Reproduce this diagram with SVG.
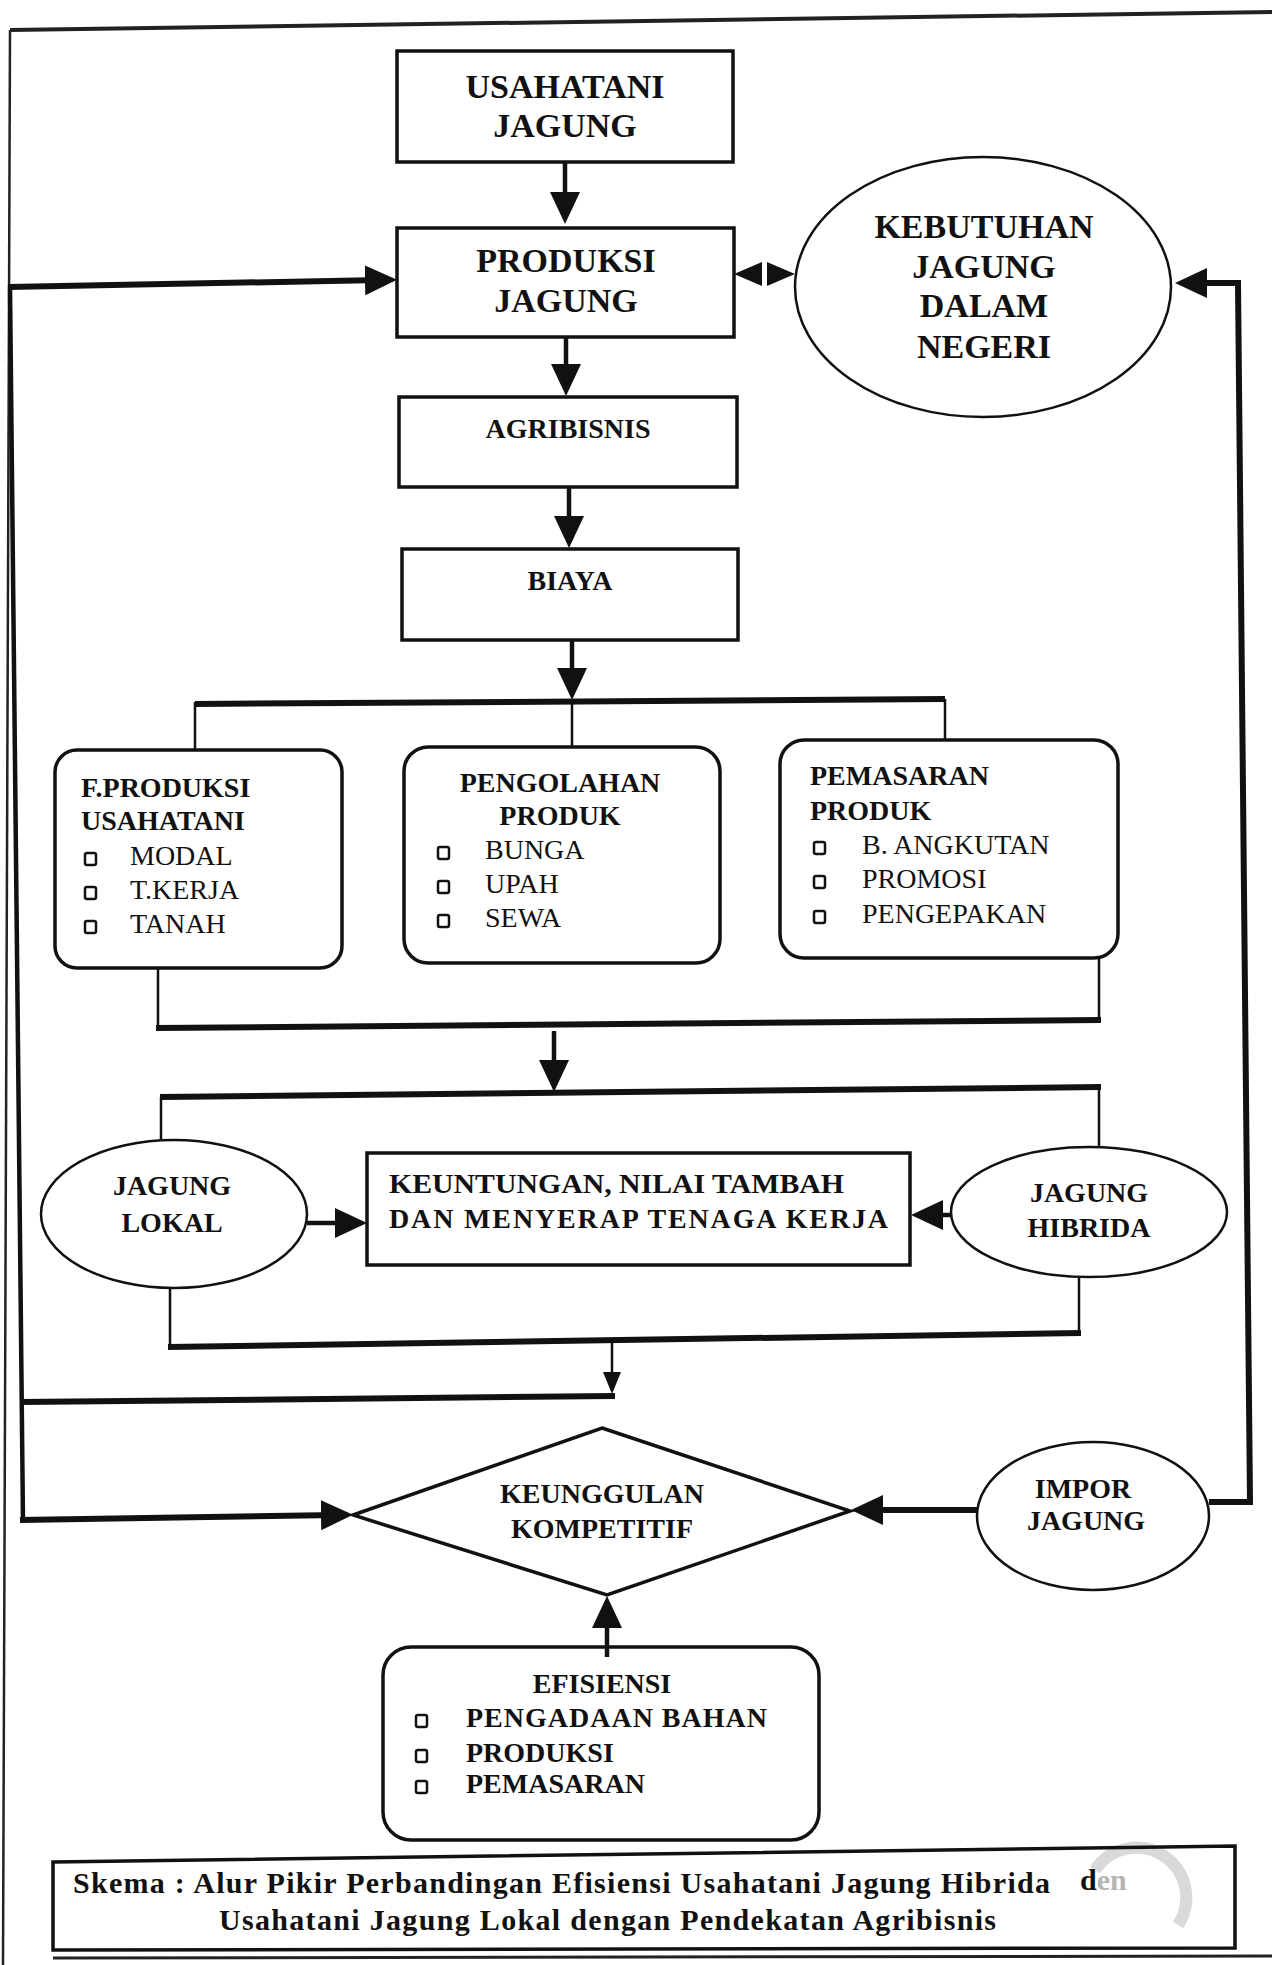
<svg xmlns="http://www.w3.org/2000/svg" width="1272" height="1965" viewBox="0 0 1272 1965">
<style>
  text { font-family: "Liberation Serif", "Times New Roman", serif; fill: #111; }
  .b { font-weight: bold; }
  .t34 { font-size: 34px; }
  .t28 { font-size: 28px; }
  .t30 { font-size: 30px; }
  .c { text-anchor: middle; }
  .box { fill: none; stroke: #111; stroke-width: 3.5; }
  .ell { fill: none; stroke: #111; stroke-width: 2.5; }
  .bul { fill: none; stroke: #111; stroke-width: 2.5; }
  .thick { fill: none; stroke: #111; stroke-width: 6; }
  .med { fill: none; stroke: #111; stroke-width: 4.5; }
  .thin { fill: none; stroke: #111; stroke-width: 2.5; }
  .frame { fill: none; stroke: #222; }
</style>
<defs>
  <marker id="ah" markerUnits="userSpaceOnUse" markerWidth="32" markerHeight="30" refX="16" refY="15" orient="auto">
    <path d="M0,0 L32,15 L0,30 Z" fill="#111"/>
  </marker>
  <marker id="as" markerUnits="userSpaceOnUse" markerWidth="22" markerHeight="18" refX="11" refY="9" orient="auto">
    <path d="M0,0 L22,9 L0,18 Z" fill="#111"/>
  </marker>
</defs>
<rect x="0" y="0" width="1272" height="1965" fill="#fff"/>

<g id="page-frame">
  <line class="frame" x1="10" y1="30" x2="1272" y2="12" stroke-width="4"/>
  <line class="frame" x1="10" y1="30" x2="3" y2="1965" stroke-width="2.5"/>
  <line class="frame" x1="53" y1="1958" x2="1272" y2="1956" stroke-width="3"/>
  <path d="M1095,1870 A48,48 0 0 1 1178,1925" fill="none" stroke="#c9c9c9" stroke-width="12" opacity="0.7"/>
</g>

<g id="connectors">
  <line class="med" x1="565" y1="162" x2="565" y2="208" marker-end="url(#ah)"/>
  <line class="med" x1="566" y1="337" x2="566" y2="380" marker-end="url(#ah)"/>
  <line class="med" x1="569" y1="487" x2="569" y2="532" marker-end="url(#ah)"/>
  <line class="med" x1="572" y1="640" x2="572" y2="684" marker-end="url(#ah)"/>
  <polygon points="734,274 762,262 762,286" fill="#111"/>
  <polygon points="795,274 767,262 767,286" fill="#111"/>
  <line class="thick" x1="195" y1="704" x2="945" y2="699"/>
  <line class="thin" x1="195" y1="702" x2="195" y2="750"/>
  <line class="thin" x1="572" y1="700" x2="572" y2="746"/>
  <line class="thin" x1="945" y1="699" x2="945" y2="741"/>
  <line class="thin" x1="158" y1="968" x2="158" y2="1028"/>
  <line class="thin" x1="1099" y1="958" x2="1099" y2="1020"/>
  <line class="thick" x1="156" y1="1028" x2="1101" y2="1020"/>
  <line class="med" x1="554" y1="1031" x2="554" y2="1076" marker-end="url(#ah)"/>
  <line class="thick" x1="160" y1="1097" x2="1101" y2="1087"/>
  <line class="thin" x1="161" y1="1097" x2="161" y2="1141"/>
  <line class="thin" x1="1099" y1="1087" x2="1099" y2="1148"/>
  <line class="med" x1="307" y1="1223" x2="351" y2="1223" marker-end="url(#ah)"/>
  <line class="med" x1="951" y1="1215" x2="927" y2="1215" marker-end="url(#ah)"/>
  <line class="thin" x1="170" y1="1288" x2="170" y2="1347"/>
  <line class="thin" x1="1079" y1="1277" x2="1079" y2="1333"/>
  <line class="thick" x1="168" y1="1347" x2="1081" y2="1333"/>
  <line class="thin" x1="612" y1="1342" x2="612" y2="1383" marker-end="url(#as)"/>
  <line class="thick" x1="615" y1="1396" x2="21" y2="1402"/>
  <line class="med" x1="10" y1="287" x2="23" y2="1522" stroke-width="5"/>
  <line class="thick" x1="8" y1="287" x2="381" y2="280" marker-end="url(#ah)"/>
  <line class="thick" x1="20" y1="1520" x2="337" y2="1515" marker-end="url(#ah)"/>
  <line class="thick" x1="978" y1="1510" x2="867" y2="1510" marker-end="url(#ah)"/>
  <polyline class="thick" points="1209,1502 1250,1502 1238,283 1191,283" marker-end="url(#ah)"/>
  <line class="med" x1="607" y1="1657" x2="607" y2="1612" marker-end="url(#ah)"/>
</g>

<g id="usahatani-jagung">
  <rect class="box" x="397" y="51" width="336" height="111"/>
  <text class="b t34 c" x="565" y="98">USAHATANI</text>
  <text class="b t34 c" x="565" y="137">JAGUNG</text>
</g>

<g id="produksi-jagung">
  <rect class="box" x="397" y="228" width="337" height="109"/>
  <text class="b t34 c" x="566" y="272">PRODUKSI</text>
  <text class="b t34 c" x="566" y="312">JAGUNG</text>
</g>

<g id="kebutuhan-jagung">
  <ellipse class="ell" cx="983" cy="287" rx="188" ry="130"/>
  <text class="b t34 c" x="984" y="238">KEBUTUHAN</text>
  <text class="b t34 c" x="984" y="278">JAGUNG</text>
  <text class="b t34 c" x="984" y="317">DALAM</text>
  <text class="b t34 c" x="984" y="358">NEGERI</text>
</g>

<g id="agribisnis">
  <rect class="box" x="399" y="397" width="338" height="90"/>
  <text class="b t28 c" x="568" y="438">AGRIBISNIS</text>
</g>

<g id="biaya">
  <rect class="box" x="402" y="549" width="336" height="91"/>
  <text class="b t28 c" x="570" y="590">BIAYA</text>
</g>

<g id="f-produksi-usahatani">
  <rect class="box" x="55" y="750" width="287" height="218" rx="22" stroke-width="3"/>
  <text class="b t28" x="81" y="797">F.PRODUKSI</text>
  <text class="b t28" x="81" y="830">USAHATANI</text>
  <rect class="bul" x="85" y="853" width="11" height="12" rx="2"/>
  <text class="t28" x="130" y="865">MODAL</text>
  <rect class="bul" x="85" y="887" width="11" height="12" rx="2"/>
  <text class="t28" x="130" y="899">T.KERJA</text>
  <rect class="bul" x="85" y="921" width="11" height="12" rx="2"/>
  <text class="t28" x="130" y="933">TANAH</text>
</g>

<g id="pengolahan-produk">
  <rect class="box" x="404" y="747" width="316" height="216" rx="24" stroke-width="3"/>
  <text class="b t28 c" x="560" y="792">PENGOLAHAN</text>
  <text class="b t28 c" x="560" y="825">PRODUK</text>
  <rect class="bul" x="438" y="847" width="11" height="12" rx="2"/>
  <text class="t28" x="485" y="859">BUNGA</text>
  <rect class="bul" x="438" y="881" width="11" height="12" rx="2"/>
  <text class="t28" x="485" y="893">UPAH</text>
  <rect class="bul" x="438" y="915" width="11" height="12" rx="2"/>
  <text class="t28" x="485" y="927">SEWA</text>
</g>

<g id="pemasaran-produk">
  <rect class="box" x="780" y="740" width="338" height="218" rx="24" stroke-width="3"/>
  <text class="b t28" x="810" y="785">PEMASARAN</text>
  <text class="b t28" x="810" y="820">PRODUK</text>
  <rect class="bul" x="814" y="842" width="11" height="12" rx="2"/>
  <text class="t28" x="862" y="854">B. ANGKUTAN</text>
  <rect class="bul" x="814" y="876" width="11" height="12" rx="2"/>
  <text class="t28" x="862" y="888">PROMOSI</text>
  <rect class="bul" x="814" y="911" width="11" height="12" rx="2"/>
  <text class="t28" x="862" y="923">PENGEPAKAN</text>
</g>

<g id="jagung-lokal">
  <ellipse class="ell" cx="174" cy="1214" rx="133" ry="74"/>
  <text class="b t28 c" x="172" y="1195">JAGUNG</text>
  <text class="b t28 c" x="172" y="1232">LOKAL</text>
</g>

<g id="keuntungan">
  <rect class="box" x="367" y="1153" width="543" height="112" stroke-width="3"/>
  <text class="b t28" x="389" y="1193" textLength="455" lengthAdjust="spacingAndGlyphs">KEUNTUNGAN, NILAI TAMBAH</text>
  <text class="b t28" x="389" y="1228" textLength="499" lengthAdjust="spacing">DAN MENYERAP TENAGA KERJA</text>
</g>

<g id="jagung-hibrida">
  <ellipse class="ell" cx="1089" cy="1212" rx="138" ry="65"/>
  <text class="b t28 c" x="1089" y="1202">JAGUNG</text>
  <text class="b t28 c" x="1089" y="1237">HIBRIDA</text>
</g>

<g id="keunggulan-kompetitif">
  <polygon class="box" points="602,1428 850,1511 607,1595 353,1515" stroke-width="3"/>
  <text class="b t28 c" x="602" y="1503">KEUNGGULAN</text>
  <text class="b t28 c" x="602" y="1538">KOMPETITIF</text>
</g>

<g id="impor-jagung">
  <ellipse class="ell" cx="1093" cy="1516" rx="116" ry="74"/>
  <text class="b t28 c" x="1083" y="1498">IMPOR</text>
  <text class="b t28 c" x="1086" y="1530">JAGUNG</text>
</g>

<g id="efisiensi">
  <rect class="box" x="383" y="1647" width="436" height="193" rx="28" stroke-width="3"/>
  <text class="b t28 c" x="602" y="1693">EFISIENSI</text>
  <rect class="bul" x="416" y="1715" width="11" height="12" rx="2"/>
  <text class="b t28" x="466" y="1727" textLength="301" lengthAdjust="spacing">PENGADAAN BAHAN</text>
  <rect class="bul" x="416" y="1750" width="11" height="12" rx="2"/>
  <text class="b t28" x="466" y="1762">PRODUKSI</text>
  <rect class="bul" x="416" y="1781" width="11" height="12" rx="2"/>
  <text class="b t28" x="466" y="1793">PEMASARAN</text>
</g>

<g id="caption">
  <polygon class="box" points="53,1862 1235,1846 1235,1948 53,1950" stroke-width="3"/>
  <text class="b t30" x="73" y="1893" textLength="977" lengthAdjust="spacing">Skema : Alur Pikir Perbandingan Efisiensi Usahatani Jagung Hibrida</text>
  <text class="b t30" x="1080" y="1890">d<tspan fill="#b5b5b5">en</tspan></text>
  <text class="b t30" x="219" y="1930" textLength="777" lengthAdjust="spacing">Usahatani Jagung Lokal  dengan Pendekatan Agribisnis</text>
</g>
</svg>
